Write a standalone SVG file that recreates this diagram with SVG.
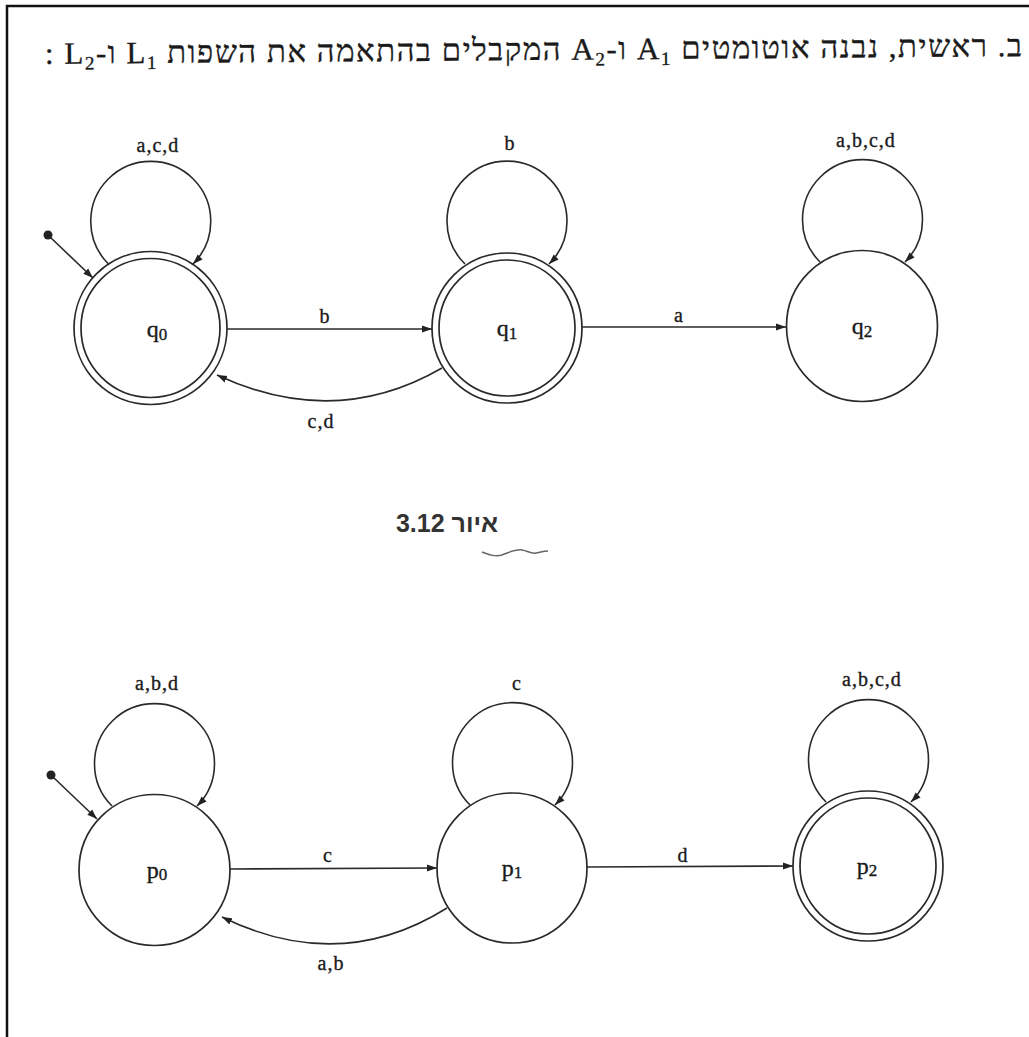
<svg xmlns="http://www.w3.org/2000/svg" width="1029" height="1037" viewBox="0 0 1029 1037">
<style>
.st{fill:#fff;stroke:#2a2a2a;stroke-width:1.7}
.in{fill:none;stroke:#2a2a2a;stroke-width:1.7}
.e{fill:none;stroke:#2a2a2a;stroke-width:1.6}
.lb{font-family:"Liberation Serif","Times New Roman",serif;font-size:20px;fill:#1a1a1a;stroke:#1a1a1a;stroke-width:0.35;text-anchor:middle;letter-spacing:1px}
.nl{font-family:"Liberation Serif","Times New Roman",serif;font-size:24px;fill:#1a1a1a;stroke:#1a1a1a;stroke-width:0.35;text-anchor:middle}
.sb{font-size:17px}
.ttl{font-family:"Liberation Serif","DejaVu Sans",serif;font-size:31px;fill:#1a1a1a;stroke:#1a1a1a;stroke-width:0.35}
.ts{font-size:19px}
.cap{font-family:"Liberation Sans",Arial,sans-serif;font-size:25px;font-weight:bold;fill:#333}
</style>
<defs>
<marker id="ah" markerUnits="userSpaceOnUse" markerWidth="11" markerHeight="8" refX="10" refY="4" orient="auto">
<path d="M0,0.5 L10,4 L0,7.5 Z" fill="#222"/>
</marker>
</defs>
<rect width="1029" height="1037" fill="#fff"/>
<path d="M7,1037 V6 H1029" fill="none" stroke="#111" stroke-width="2.5"/>

<g id="title">
<text class="ttl" x="1022" y="60" direction="rtl" text-anchor="start" textLength="977" lengthAdjust="spacing" transform="rotate(-0.45 530 60)">ב. ראשית, נבנה אוטומטים A<tspan class="ts" baseline-shift="-6">1</tspan> ו-A<tspan class="ts" baseline-shift="-6">2</tspan> המקבלים בהתאמה את השפות L<tspan class="ts" baseline-shift="-6">1</tspan> ו-L<tspan class="ts" baseline-shift="-6">2</tspan> :</text>
</g>

<g id="connectors">
<!-- automaton A1 -->
<circle cx="48" cy="235" r="4.5" fill="#222"/>
<path class="e" d="M50,237 L93,278" marker-end="url(#ah)"/>
<path class="e" d="M108.5,264 A60,60 0 1,1 193,264" marker-end="url(#ah)"/>
<path class="e" d="M227,329 L432,329" marker-end="url(#ah)"/>
<path class="e" d="M442,368 Q335,430 217,375" marker-end="url(#ah)"/>
<path class="e" d="M465,264 A60,60 0 1,1 549,264" marker-end="url(#ah)"/>
<path class="e" d="M582,327 L786,327" marker-end="url(#ah)"/>
<path class="e" d="M820,262 A60,60 0 1,1 905,262" marker-end="url(#ah)"/>
<text class="lb" x="158" y="152">a,c,d</text>
<text class="lb" x="325" y="323">b</text>
<text class="lb" x="321" y="428">c,d</text>
<text class="lb" x="510" y="150">b</text>
<text class="lb" x="679" y="322">a</text>
<text class="lb" x="866" y="147">a,b,c,d</text>
<!-- automaton A2 -->
<circle cx="51" cy="775" r="4.5" fill="#222"/>
<path class="e" d="M53,777 L97,819" marker-end="url(#ah)"/>
<path class="e" d="M112,806 A60,60 0 1,1 197,806" marker-end="url(#ah)"/>
<path class="e" d="M230,869 L437,868" marker-end="url(#ah)"/>
<path class="e" d="M447,908 Q340,975 222,917" marker-end="url(#ah)"/>
<path class="e" d="M470,805 A60,60 0 1,1 555,805" marker-end="url(#ah)"/>
<path class="e" d="M587,867 L793,866" marker-end="url(#ah)"/>
<path class="e" d="M826,802 A60,60 0 1,1 911,802" marker-end="url(#ah)"/>
<text class="lb" x="157" y="690">a,b,d</text>
<text class="lb" x="328" y="862">c</text>
<text class="lb" x="331" y="970">a,b</text>
<text class="lb" x="517" y="690">c</text>
<text class="lb" x="683" y="862">d</text>
<text class="lb" x="872" y="686">a,b,c,d</text>
</g>

<g id="q0">
<circle class="st" cx="150.5" cy="328" r="76.5"/>
<circle class="in" cx="150.5" cy="328" r="69.5"/>
<text class="nl" x="157" y="337">q<tspan class="sb" dy="3">0</tspan></text>
</g>
<g id="q1">
<circle class="st" cx="507" cy="328" r="75"/>
<circle class="in" cx="507" cy="328" r="68"/>
<text class="nl" x="507" y="336">q<tspan class="sb" dy="3">1</tspan></text>
</g>
<g id="q2">
<circle class="st" cx="862" cy="326" r="75.5"/>
<text class="nl" x="862" y="334">q<tspan class="sb" dy="3">2</tspan></text>
</g>

<g id="caption">
<text class="cap" x="447" y="532" direction="rtl" text-anchor="middle">איור 3.12</text>
<path d="M482,552 C490,555 496,557 502,555 C510,552 516,549 522,550 C528,551 531,554 536,553 C541,552 544,551 548,551" fill="none" stroke="#666" stroke-width="1.5"/>
</g>

<g id="p0">
<circle class="st" cx="154.5" cy="870" r="75.5"/>
<text class="nl" x="157" y="878">p<tspan class="sb" dy="2">0</tspan></text>
</g>
<g id="p1">
<circle class="st" cx="512" cy="868" r="75"/>
<text class="nl" x="512" y="876">p<tspan class="sb" dy="2">1</tspan></text>
</g>
<g id="p2">
<circle class="st" cx="868" cy="866" r="75"/>
<circle class="in" cx="868" cy="866" r="68"/>
<text class="nl" x="867" y="874">p<tspan class="sb" dy="2">2</tspan></text>
</g>
</svg>
